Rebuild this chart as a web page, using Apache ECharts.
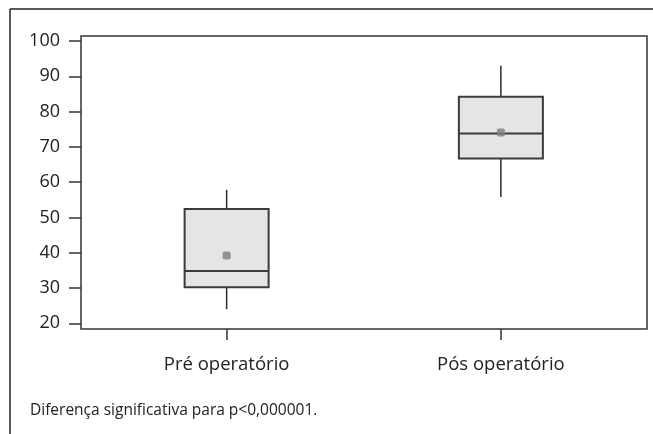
<!DOCTYPE html>
<html>
<head>
<meta charset="utf-8">
<script src="https://cdn.jsdelivr.net/npm/echarts@6/dist/echarts.min.js"></script>
<style>
html, body { margin: 0; padding: 0; background: #fff; }
#main { width: 653px; height: 434px; }
</style>
</head>
<body>
<div id="main"></div>
<script>
// dados
var categorias = ['Pré operatório', 'Pós operatório'];
var minimo  = [24.0, 55.8];
var q1      = [30.2, 66.7];
var mediana = [34.8, 73.8];
var q3      = [52.4, 84.2];
var maximo  = [57.8, 93.0];
var media   = [39.2, 74.1];
var yTicks  = [20, 100, 10]; // min, max, intervalo

var fonte = '"Open Sans", "DejaVu Sans", sans-serif';
var boxData = categorias.map(function (c, i) {
    return [i, minimo[i], q1[i], mediana[i], q3[i], maximo[i]];
});
var mediaData = categorias.map(function (c, i) {
    return [i, media[i]];
});

// desenha cada caixa com a escala do eixo
function renderBox(params, api) {
    var i = api.value(0);
    var pMin = api.coord([i, api.value(1)]);
    var pQ1 = api.coord([i, api.value(2)]);
    var pMed = api.coord([i, api.value(3)]);
    var pQ3 = api.coord([i, api.value(4)]);
    var pMax = api.coord([i, api.value(5)]);
    var half = 42;
    var x = pQ1[0];
    return {
        type: 'group',
        children: [
            { type: 'line', shape: { x1: x, y1: pMax[1], x2: x, y2: pQ3[1] },
              style: { stroke: '#2b2b2b', lineWidth: 1.5 } },
            { type: 'line', shape: { x1: x, y1: pQ1[1], x2: x, y2: pMin[1] },
              style: { stroke: '#2b2b2b', lineWidth: 1.5 } },
            { type: 'rect', shape: { x: x - half, y: pQ3[1], width: half * 2, height: pQ1[1] - pQ3[1] },
              style: { fill: '#e4e5e7', stroke: '#3c3c3c', lineWidth: 2 } },
            { type: 'line', shape: { x1: x - half, y1: pMed[1], x2: x + half, y2: pMed[1] },
              style: { stroke: '#3c3c3c', lineWidth: 2 } }
        ]
    };
}

var myChart = echarts.init(document.getElementById('main'));
var option = {
    animation: false,
    backgroundColor: '#fff',
    textStyle: { fontFamily: fonte },
    grid: { left: 89.5, right: 15, top: 41, bottom: 110.7 },
    graphic: [
        { type: 'line', shape: { x1: 10, y1: 9, x2: 653, y2: 9 }, style: { stroke: '#222', lineWidth: 1.5 } },
        { type: 'line', shape: { x1: 10, y1: 9, x2: 10, y2: 434 }, style: { stroke: '#222', lineWidth: 1.5 } },
        { type: 'rect', shape: { x: 81, y: 36, width: 566, height: 293 }, style: { fill: null, stroke: '#333', lineWidth: 1.5 }, z: 10 },
        { type: 'text', left: 30, top: 403, style: { text: 'Diferença significativa para p<0,000001.', font: '15.5px ' + fonte, fill: '#222' } }
    ],
    xAxis: {
        type: 'category',
        data: categorias,
        offset: 5.7,
        axisLine: { show: false },
        axisTick: { show: true, alignWithLabel: true, length: 11, lineStyle: { color: '#333', width: 1.5 } },
        axisLabel: { color: '#222', fontSize: 18.5, margin: 26, fontFamily: fonte },
        splitLine: { show: false }
    },
    yAxis: {
        type: 'value',
        min: yTicks[0],
        max: yTicks[1],
        interval: yTicks[2],
        offset: 8.5,
        axisLine: { show: false },
        axisTick: { show: true, length: 12, lineStyle: { color: '#333', width: 1.5 } },
        axisLabel: { color: '#222', fontSize: 18, margin: 21, fontFamily: fonte },
        splitLine: { show: false }
    },
    series: [
        {
            type: 'custom',
            renderItem: renderBox,
            encode: { x: 0, y: [1, 2, 3, 4, 5] },
            data: boxData
        },
        {
            type: 'scatter',
            symbol: 'roundRect',
            symbolSize: 8,
            itemStyle: { color: '#7d7d80' },
            data: mediaData,
            z: 5
        }
    ]
};
myChart.setOption(option);
</script>
</body>
</html>
